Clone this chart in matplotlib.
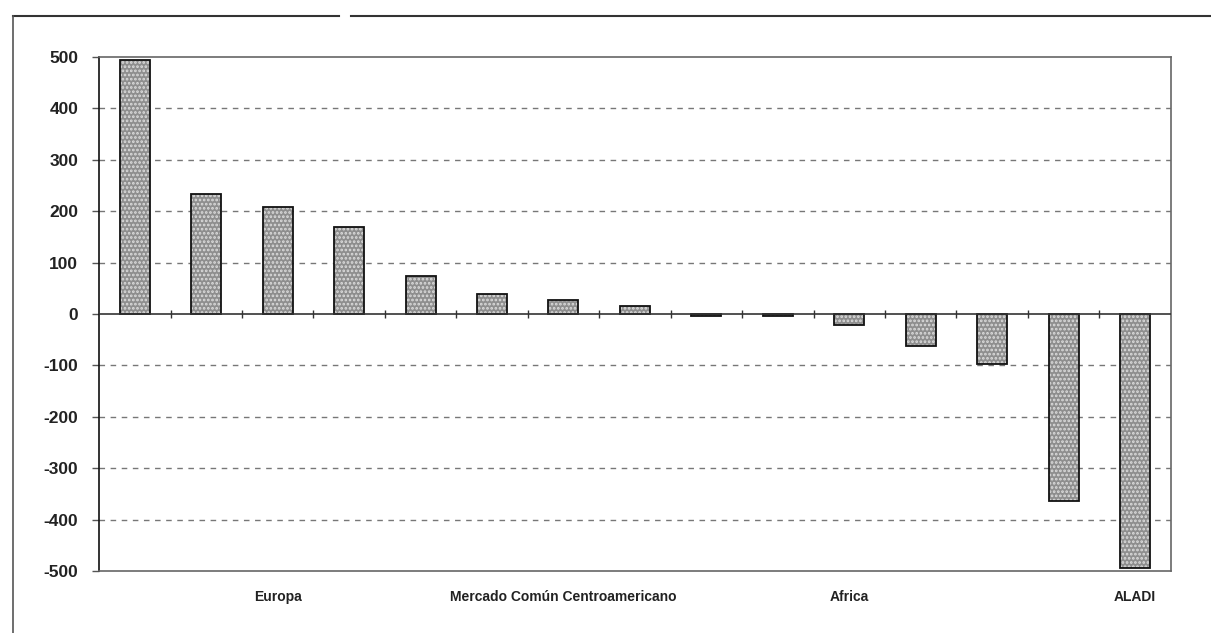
import matplotlib
matplotlib.use("Agg")
import matplotlib.pyplot as plt
from matplotlib.lines import Line2D
import numpy as np

plt.rcParams['font.family'] = ['Liberation Sans', 'DejaVu Sans']
plt.rcParams['hatch.linewidth'] = 1.3

categories = ["", "", "Europa", "", "", "", "Mercado Común Centroamericano",
              "", "", "", "Africa", "", "", "", "ALADI"]
values = [495, 234, 209, 169, 74, 39, 27, 15, -4, -4, -22, -63, -98, -364, -494]
yticks = [500, 400, 300, 200, 100, 0, -100, -200, -300, -400, -500]

fig = plt.figure(figsize=(12.11, 6.33), dpi=100)
ax = fig.add_axes([0.0818, 0.098, 0.885, 0.812])

x = np.arange(len(values))
ax.bar(x, values, width=0.42, color='#8e8e8e', linewidth=0, zorder=3)
ax.bar(x, values, width=0.42, fill=False, edgecolor='#dcdcdc', hatch='....',
       linewidth=0, zorder=3.5)
ax.bar(x, values, width=0.42, fill=False, edgecolor='#111111', linewidth=1.3, zorder=4)

ax.set_xlim(-0.5, len(values) - 0.5)
ax.set_ylim(-500, 500)
ax.set_yticks(yticks)
ax.set_yticklabels([str(v) for v in yticks], fontsize=12.5, fontweight='bold', color='#222222')
ax.tick_params(axis='y', length=5, width=1, color='#555555', pad=10)

ax.set_xticks(x)
ax.set_xticklabels(categories, fontsize=10, fontweight='bold', color='#222222')
ax.tick_params(axis='x', length=0, pad=14)

for v in yticks:
    if v not in (0, 500, -500):
        ax.axhline(v, color='#777777', linestyle=(0, (4, 4)), linewidth=1.0, zorder=1)

ax.axhline(0, color='#333333', linewidth=1.2, zorder=5)
bounds = np.arange(len(values) + 1) - 0.5
ax.vlines(bounds[1:-1], -8, 8, color='#333333', linewidth=1.0, zorder=5)

for s in ax.spines.values():
    s.set_color('#666666')
    s.set_linewidth(1.2)
ax.spines['left'].set_color('#111111')

# outer frame of the scanned page
fig.add_artist(Line2D([0.011, 0.28], [0.975, 0.975], color='#333333', linewidth=1.5))
fig.add_artist(Line2D([0.29, 1.0], [0.975, 0.975], color='#333333', linewidth=1.5))
fig.add_artist(Line2D([0.011, 0.011], [0.0, 0.975], color='#555555', linewidth=1.2))

fig.savefig("out.png", dpi=100)
